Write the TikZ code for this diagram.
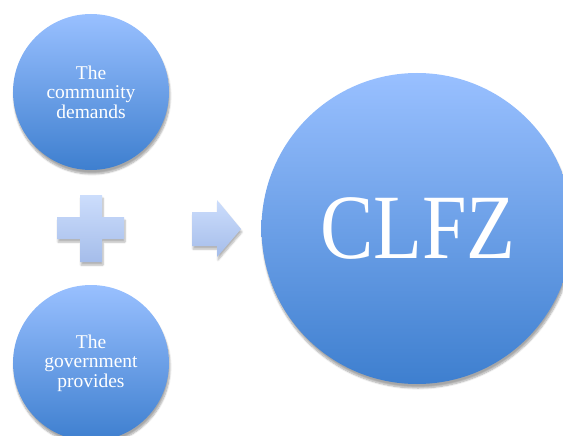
\documentclass[tikz,border=0pt]{standalone}
\usepackage{fontspec}
\setmainfont{Liberation Serif}
\usetikzlibrary{shadows.blur}
\definecolor{ctop}{RGB}{153,192,255}
\definecolor{cbot}{RGB}{62,127,207}
\definecolor{ptop}{RGB}{204,221,252}
\definecolor{pbot}{RGB}{165,189,234}
\tikzset{
  ball/.style={circle, draw=none, top color=ctop, bottom color=cbot, text=white,
    blur shadow={shadow xshift=1pt, shadow yshift=-4pt, shadow blur steps=8, shadow opacity=35},
    align=center, inner sep=0pt},
  smalltxt/.style={font=\fontsize{19.5}{19.5}\selectfont},
  sign/.style={draw=none, top color=ptop, bottom color=pbot,
    blur shadow={shadow xshift=1pt, shadow yshift=-3pt, shadow blur steps=6, shadow opacity=30}}
}
\begin{document}
\begin{tikzpicture}[x=1pt,y=-1pt]
\useasboundingbox (0,0) rectangle (563,436);
\node[ball, minimum size=156pt, smalltxt] (comm) at (91,92) {The\\community\\demands};
\node[ball, minimum size=156pt, smalltxt] (gov) at (91,363) {The\\government\\provides};
\node[ball, minimum size=311pt] (clfz) at (417,228.5) {};
\node[text=white, font=\fontsize{92}{92}\selectfont] (lbl) at (418,228) {\scalebox{0.87}[1]{CLFZ}};
\path[sign] (80,195) -- (102,195) -- (102,217) -- (124,217) -- (124,239) -- (102,239) -- (102,262) -- (80,262) -- (80,239) -- (57,239) -- (57,217) -- (80,217) -- cycle;
\path[sign] (192,212) -- (217,212) -- (217,200) -- (241,229) -- (217,257) -- (217,246) -- (192,246) -- cycle;
\end{tikzpicture}
\end{document}
